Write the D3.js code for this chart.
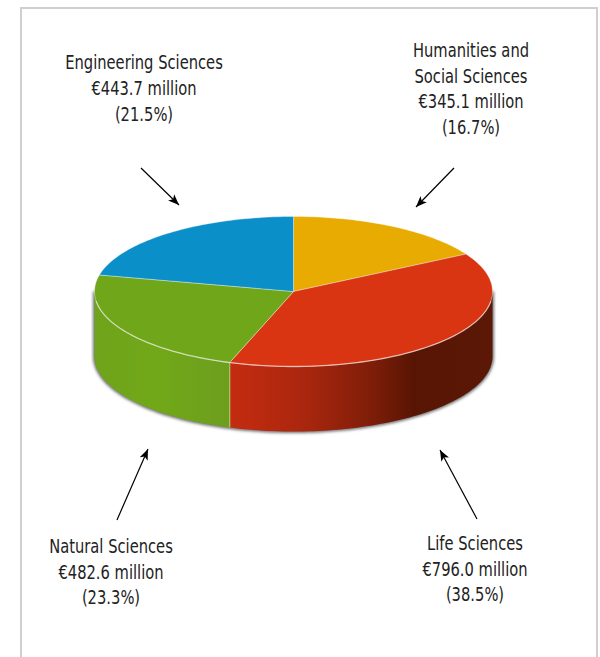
<!DOCTYPE html>
<html>
<head>
<meta charset="utf-8">
<script src="https://d3js.org/d3.v7.min.js"></script>
<style>
  html, body { margin: 0; padding: 0; background: #fff; }
  text { font-family: "DejaVu Sans", sans-serif; font-size: 19px; fill: #222; }
</style>
</head>
<body>
<div id="chart"></div>
<script>
// slices run clockwise from 12 o'clock
const categories = ["Humanities and Social Sciences", "Life Sciences", "Natural Sciences", "Engineering Sciences"];
const funding = [345.1, 796.0, 482.6, 443.7];
const amountLabels = ["€345.1 million", "€796.0 million", "€482.6 million", "€443.7 million"];
const shareLabels = ["(16.7%)", "(38.5%)", "(23.3%)", "(21.5%)"];
const labelLines = [["Humanities and", "Social Sciences"], ["Life Sciences"], ["Natural Sciences"], ["Engineering Sciences"]];
const colors = ["#e8ab02", "#d93512", "#70a71a", "#0b8fc9"];

const width = 600;
const height = 657;

// the ellipse of the top face and the height of the wall
const cx = 293.5, cy = 291.5, rx = 199, ry = 75, depth = 65;

// where the labels sit and where their arrows go
const labelPos = [
  { x: 471, y: 57, arrow: [454, 168, 416, 207] },
  { x: 475, y: 550, arrow: [477, 519, 440, 450] },
  { x: 111, y: 553, arrow: [117, 520, 148, 449] },
  { x: 144, y: 69.5, arrow: [141, 168, 179, 205] }
];

const x = d3.scaleLinear().domain([-1, 1]).range([cx - rx, cx + rx]);
const y = d3.scaleLinear().domain([-1, 1]).range([cy - ry, cy + ry]);

// angle is clockwise from the top
const px = a => x(Math.sin(a));
const py = a => y(-Math.cos(a));

const slices = d3.pie().sort(null).value(d => d)(funding);

function sampleAngles(a0, a1) {
  let n = Math.max(2, Math.ceil((a1 - a0) * 40));
  return d3.range(n + 1).map(i => a0 + (a1 - a0) * i / n);
}

const line = d3.line();

const svg = d3.select("#chart").append("svg")
  .attr("width", width)
  .attr("height", height)
  .style("display", "block");

const defs = svg.append("defs");

defs.append("filter").attr("id", "blur")
  .attr("x", "-10%").attr("y", "-20%").attr("width", "120%").attr("height", "140%")
  .append("feGaussianBlur").attr("stdDeviation", 1.6);

const redWall = defs.append("linearGradient").attr("id", "wall1")
  .attr("gradientUnits", "userSpaceOnUse")
  .attr("x1", px(slices[1].endAngle)).attr("x2", cx + rx).attr("y1", 0).attr("y2", 0);
[[0, "#c52c10"], [0.3, "#a8260e"], [0.55, "#7c1d08"], [0.7, "#581503"], [1, "#5c1807"]].forEach(s => {
  redWall.append("stop").attr("offset", s[0]).attr("stop-color", s[1]);
});

const greenWall = defs.append("linearGradient").attr("id", "wall2")
  .attr("gradientUnits", "userSpaceOnUse")
  .attr("x1", cx - rx).attr("x2", px(slices[1].endAngle)).attr("y1", 0).attr("y2", 0);
[[0, "#6fa31b"], [0.45, "#71a818"], [1, "#6d9e1e"]].forEach(s => {
  greenWall.append("stop").attr("offset", s[0]).attr("stop-color", s[1]);
});

// panel border, open at the bottom
svg.append("path")
  .attr("d", line([[21, height], [21, 8], [597, 8], [597, height]]))
  .attr("fill", "none")
  .attr("stroke", "#cfcfcf")
  .attr("stroke-width", 2);

// soft shadow round the lower edge
const frontAngles = sampleAngles(Math.PI / 2, Math.PI * 1.5);
const wallOutline = frontAngles.map(a => [px(a), py(a)])
  .concat(frontAngles.slice().reverse().map(a => [px(a), py(a) + depth]));

svg.append("path")
  .attr("d", line(wallOutline) + "Z")
  .attr("fill", "#6e6e6e")
  .attr("stroke", "#6e6e6e")
  .attr("stroke-width", 3)
  .attr("filter", "url(#blur)");

// walls, only the front half can be seen
slices.forEach((s, i) => {
  let a0 = Math.max(s.startAngle, Math.PI / 2);
  let a1 = Math.min(s.endAngle, Math.PI * 1.5);
  if (a1 <= a0) return;
  let angles = sampleAngles(a0, a1);
  let pts = angles.map(a => [px(a), py(a)])
    .concat(angles.slice().reverse().map(a => [px(a), py(a) + depth]));
  svg.append("path")
    .attr("d", line(pts) + "Z")
    .attr("fill", `url(#wall${i})`);
});

// seam between the two walls
svg.append("path")
  .attr("d", line([[px(slices[1].endAngle), py(slices[1].endAngle)], [px(slices[1].endAngle), py(slices[1].endAngle) + depth]]))
  .attr("stroke", "#a9c86c")
  .attr("stroke-width", 1.2);

// top face
slices.forEach((s, i) => {
  let pts = [[cx, cy]].concat(sampleAngles(s.startAngle, s.endAngle).map(a => [px(a), py(a)]));
  svg.append("path")
    .attr("d", line(pts) + "Z")
    .attr("fill", colors[i])
    .attr("stroke", "#fff")
    .attr("stroke-opacity", 0.35)
    .attr("stroke-width", 1)
    .attr("stroke-linejoin", "round");
});

// pale rim on the front of the top face, fades out before the sides
const rimAngles = sampleAngles(Math.PI * 0.54, Math.PI * 1.46);
svg.append("path")
  .attr("d", line(rimAngles.map(a => [px(a), py(a)])))
  .attr("fill", "none")
  .attr("stroke", "#fff")
  .attr("stroke-opacity", 0.5)
  .attr("stroke-width", 1.3);

// labels and arrows
defs.append("marker").attr("id", "head")
  .attr("viewBox", "0 0 10 8")
  .attr("refX", 10).attr("refY", 4)
  .attr("markerWidth", 11).attr("markerHeight", 9)
  .attr("markerUnits", "userSpaceOnUse")
  .attr("orient", "auto")
  .append("path")
  .attr("d", "M0,0L10,4L0,8L2.5,4Z")
  .attr("fill", "#000");

categories.forEach((c, i) => {
  let p = labelPos[i];
  let lines = labelLines[i].concat([amountLabels[i], shareLabels[i]]);
  // the type in the original is tall and narrow
  let t = svg.append("text")
    .attr("text-anchor", "middle")
    .attr("transform", `translate(${p.x},0) scale(0.775,1)`);
  lines.forEach((l, j) => {
    t.append("tspan").attr("x", 0).attr("y", p.y + j * 25.7).text(l);
  });
  svg.append("line")
    .attr("x1", p.arrow[0]).attr("y1", p.arrow[1])
    .attr("x2", p.arrow[2]).attr("y2", p.arrow[3])
    .attr("stroke", "#000")
    .attr("stroke-width", 1.2)
    .attr("marker-end", "url(#head)");
});
</script>
</body>
</html>
